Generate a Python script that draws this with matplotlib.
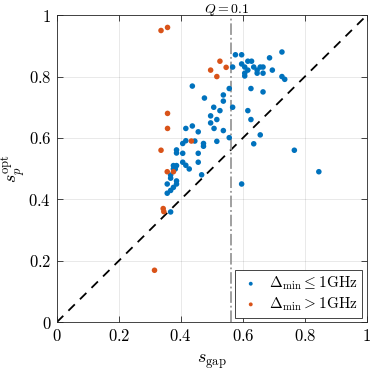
import numpy as np
import matplotlib
matplotlib.use('Agg')
import matplotlib.pyplot as plt

plt.rcParams['mathtext.fontset'] = 'cm'
plt.rcParams['font.family'] = 'serif'
plt.rcParams['font.serif'] = ['cmr10', 'DejaVu Serif']
plt.rcParams['axes.formatter.use_mathtext'] = True

BLUE = '#0072BD'
ORANGE = '#D95319'

# points with Delta_min <= 1 GHz
blue_x = [0.576, 0.596, 0.616, 0.628, 0.686, 0.726, 0.567, 0.596, 0.606, 0.635,
          0.616, 0.646, 0.656, 0.665, 0.646, 0.665, 0.695, 0.606, 0.606, 0.726,
          0.735, 0.626, 0.665, 0.556, 0.537, 0.537, 0.567, 0.616, 0.626, 0.537,
          0.437, 0.476, 0.506, 0.526, 0.496, 0.516, 0.496, 0.507, 0.556, 0.516,
          0.437, 0.416, 0.456, 0.416, 0.445, 0.406, 0.473, 0.473, 0.386, 0.386,
          0.406, 0.456, 0.406, 0.456, 0.416, 0.427, 0.376, 0.386, 0.376, 0.382,
          0.367, 0.367, 0.386, 0.386, 0.356, 0.376, 0.367, 0.356, 0.467, 0.367,
          0.656, 0.635, 0.766, 0.845, 0.596]
blue_y = [0.871, 0.871, 0.850, 0.850, 0.861, 0.880, 0.831, 0.841, 0.831, 0.831,
          0.821, 0.821, 0.831, 0.831, 0.811, 0.811, 0.821, 0.811, 0.802, 0.800,
          0.791, 0.761, 0.750, 0.761, 0.740, 0.720, 0.700, 0.689, 0.660, 0.624,
          0.769, 0.730, 0.700, 0.689, 0.672, 0.660, 0.649, 0.631, 0.601, 0.589,
          0.639, 0.631, 0.620, 0.591, 0.590, 0.582, 0.582, 0.573, 0.561, 0.551,
          0.550, 0.550, 0.521, 0.521, 0.511, 0.499, 0.510, 0.510, 0.499, 0.499,
          0.479, 0.469, 0.460, 0.450, 0.450, 0.439, 0.429, 0.420, 0.480, 0.359,
          0.610, 0.581, 0.560, 0.490, 0.450]

# points with Delta_min > 1 GHz
orange_x = [0.336, 0.357, 0.526, 0.496, 0.546, 0.516, 0.357, 0.357, 0.434, 0.336,
            0.356, 0.376, 0.343, 0.345, 0.315]
orange_y = [0.950, 0.960, 0.850, 0.821, 0.830, 0.800, 0.680, 0.631, 0.590, 0.560,
            0.490, 0.490, 0.370, 0.360, 0.169]

q_line = 0.561
ticks = [0, 0.2, 0.4, 0.6, 0.8, 1]
tick_labels = ['$0$', '$0.2$', '$0.4$', '$0.6$', '$0.8$', '$1$']

fig = plt.figure(figsize=(3.74, 3.79), dpi=100)
ax = fig.add_axes([0.152, 0.150, 0.829, 0.810])

ax.grid(True, color='#000000', alpha=0.1, linewidth=0.6)
ax.set_axisbelow(True)

ax.plot([0, 1], [0, 1], color='black', linestyle=(0, (5, 4)), linewidth=1.3, zorder=2)
ax.axvline(q_line, color='#999999', linestyle='-.', linewidth=1.3, zorder=2)
ax.annotate('$Q = 0.1$', xy=(q_line - 0.012, 1.0), xycoords=ax.get_xaxis_transform(),
            xytext=(0, 1.5), textcoords='offset points',
            ha='center', va='baseline', fontsize=10, annotation_clip=False)

ax.scatter(blue_x, blue_y, s=16, color=BLUE, edgecolors='none', zorder=3,
           label=r'$\Delta_{\mathrm{min}} \leq 1\mathrm{GHz}$')
ax.scatter(orange_x, orange_y, s=16, color=ORANGE, edgecolors='none', zorder=3,
           label=r'$\Delta_{\mathrm{min}} > 1\mathrm{GHz}$')

ax.set_xlim(0, 1)
ax.set_ylim(0, 1)
ax.set_xticks(ticks)
ax.set_yticks(ticks)
ax.set_xticklabels(tick_labels, fontsize=12)
ax.set_yticklabels(tick_labels, fontsize=12)
ax.tick_params(direction='in', top=True, right=True, length=4, width=0.6,
               color='#262626', pad=4)
for sp in ax.spines.values():
    sp.set_color('#262626')
    sp.set_linewidth(0.6)

ax.set_xlabel(r'$s_{\mathrm{gap}}$', fontsize=13, labelpad=6)
ax.set_ylabel(r'$s_p^{\mathrm{opt}}$', fontsize=13, labelpad=0)

leg = ax.legend(loc='lower right', fontsize=11, fancybox=False, framealpha=1,
                edgecolor='#262626', handletextpad=0.5, borderpad=0.3,
                labelspacing=0.2, handlelength=1.4, borderaxespad=0.3,
                markerscale=0.7)
leg.get_frame().set_linewidth(0.6)

fig.savefig('out.png', dpi=100)
